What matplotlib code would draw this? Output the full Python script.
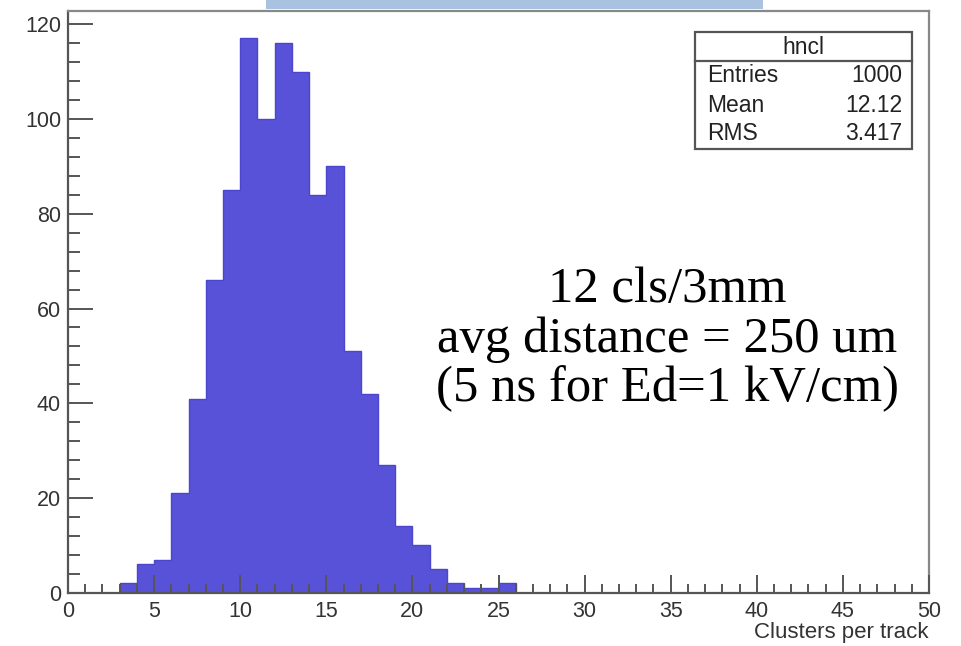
#!/usr/bin/env python3
"""Cluster-count histogram (ROOT style) with a stats box and a text note."""

import numpy as np
import matplotlib.pyplot as plt
from matplotlib.patches import Rectangle
from matplotlib.ticker import MultipleLocator

# Histogram data: 1-unit bins starting at bin_lo
bin_lo = np.arange(3, 26)
counts = [2, 6, 7, 21, 41, 66, 85, 117, 100, 116, 110, 84, 90,
          51, 42, 27, 14, 10, 5, 2, 1, 1, 2]

stat_title = 'hncl'
stat_names = ['Entries', 'Mean', 'RMS']
stat_values = ['1000', '12.12', '3.417']

note_lines = ['12 cls/3mm', 'avg distance = 250 um', '(5 ns for Ed=1 kV/cm)']

plt.rcParams['font.family'] = ['Liberation Sans', 'DejaVu Sans']

fig = plt.figure(figsize=(9.61, 6.46), dpi=100)
ax = fig.add_axes([0.0708, 0.0824, 0.8959, 0.9006])

# Filled histogram outline (no lines between bins)
edges = np.append(bin_lo, bin_lo[-1] + 1)
ax.stairs(counts, edges, fill=True, color='#5852d8', zorder=1)
ax.stairs(counts, edges, color='#4c46cc', linewidth=1.0, zorder=1.1)

ax.set_xlim(0, 50)
ax.set_ylim(0, 122.8)

# ROOT-like ticks: inside, left/bottom only, drawn over the bars
ax.xaxis.set_major_locator(MultipleLocator(5))
ax.xaxis.set_minor_locator(MultipleLocator(1))
ax.yaxis.set_major_locator(MultipleLocator(20))
ax.yaxis.set_minor_locator(MultipleLocator(4))
ax.tick_params(axis='both', which='both', direction='in', colors='#555555',
               labelcolor='#333333', labelsize=15.5, width=1.4)
ax.tick_params(axis='x', which='major', length=13, pad=6)
ax.tick_params(axis='x', which='minor', length=6.5)
ax.tick_params(axis='y', which='major', length=18, pad=5)
ax.tick_params(axis='y', which='minor', length=8.5)
ax.set_axisbelow(False)

for side in ['left', 'bottom']:
    ax.spines[side].set_color('#555555')
    ax.spines[side].set_linewidth(1.6)
for side in ['top', 'right']:
    ax.spines[side].set_color('#888888')
    ax.spines[side].set_linewidth(1.6)

ax.set_xlabel('Clusters per track', fontsize=16, color='#333333')
ax.xaxis.set_label_coords(1.0, -0.05)
ax.xaxis.label.set_horizontalalignment('right')

# Stats box
x0, x1 = 695 / 961, 912 / 961
y0, y1 = 1 - 149 / 646, 1 - 32 / 646
fig.add_artist(Rectangle((x0, y0), x1 - x0, y1 - y0, transform=fig.transFigure,
                         facecolor='white', edgecolor='#555555', linewidth=1.6))
fig.add_artist(plt.Line2D([x0, x1], [1 - 61 / 646] * 2, transform=fig.transFigure,
                          color='#555555', linewidth=1.6))
fig.text((x0 + x1) / 2, 1 - 47 / 646, stat_title, ha='center', va='center',
         fontsize=16.5, color='#222222')
row_y = [76, 106, 133]
for name, val, yy in zip(stat_names, stat_values, row_y):
    fig.text(707 / 961, 1 - yy / 646, name, ha='left', va='center',
             fontsize=16.5, color='#222222')
    fig.text(902 / 961, 1 - yy / 646, val, ha='right', va='center',
             fontsize=16.5, color='#222222')

# Note text
for line, yy in zip(note_lines, [302, 352, 401]):
    fig.text(667 / 961, 1 - yy / 646, line, ha='center', va='baseline',
             fontsize=36.5, family=['Liberation Serif', 'DejaVu Serif'],
             color='black')

# Light blue strip at the top (slide element)
fig.add_artist(Rectangle((266 / 961, 1 - 9 / 646), (763 - 266) / 961, 9 / 646,
                         transform=fig.transFigure, facecolor='#a8c2e0',
                         edgecolor='none'))

fig.savefig('out.png', dpi=100)
